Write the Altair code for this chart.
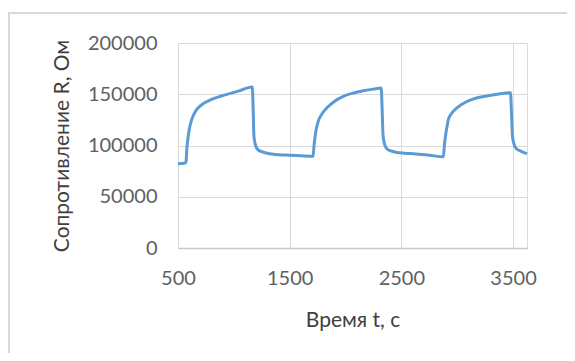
import altair as alt
import pandas as pd

# Time, s
t_values = [500, 565, 572, 580, 590, 605, 625, 660, 715, 800, 895, 1040, 1165,
            1172, 1180, 1195, 1215, 1250, 1300, 1400, 1500, 1600, 1710,
            1718, 1728, 1740, 1757, 1790, 1836, 1900, 1980, 2080, 2160, 2250, 2320,
            2328, 2336, 2350, 2370, 2400, 2450, 2530, 2610, 2750, 2877,
            2885, 2895, 2908, 2921, 2955, 3000, 3070, 3146, 3250, 3360, 3477,
            3485, 3495, 3510, 3530, 3560, 3600, 3625]
# Resistance, Ohm
r_values = [82300, 83000, 84300, 98000, 108000, 118000, 126000, 134000, 140000, 145000, 148500, 153000, 157000,
            140000, 109000, 100000, 96000, 94000, 92500, 91000, 90500, 90000, 89500,
            100000, 109000, 117000, 124000, 131000, 137000, 143000, 148000, 151500, 153500, 155000, 156000,
            135000, 110000, 101000, 97000, 95000, 93500, 92500, 92000, 90500, 89000,
            100000, 109000, 118000, 125500, 132000, 137000, 142000, 145500, 148000, 150000, 151500,
            135000, 109000, 101000, 97000, 95000, 93000, 92000]

x_ticks = [500, 1500, 2500, 3500]
y_ticks = [0, 50000, 100000, 150000, 200000]

df = pd.DataFrame({"t": t_values, "R": r_values})

FONT = "Lato"

line = alt.Chart(df).mark_line(color="#5B9BD5", strokeWidth=3, interpolate="monotone").encode(
    x=alt.X("t:Q",
            scale=alt.Scale(domain=[500, 3625], nice=False, zero=False),
            axis=alt.Axis(title="Время t, с", values=x_ticks, format="d",
                          grid=True, gridColor="#D9D9D9", gridWidth=1,
                          domain=True, domainColor="#C8C8C8", domainWidth=1.5,
                          ticks=False, labelPadding=20, labelFontSize=20, labelFlush=False,
                          labelColor="#606060", labelFont=FONT,
                          titleFont=FONT, titleFontSize=21, titleFontWeight="normal",
                          titleColor="#404040", titlePadding=21)),
    y=alt.Y("R:Q",
            scale=alt.Scale(domain=[0, 200000], nice=False),
            axis=alt.Axis(title="Сопротивление R, Ом", values=y_ticks, format="d",
                          grid=True, gridColor="#D9D9D9", gridWidth=1,
                          domain=False, ticks=False, labelPadding=21, labelFlush=False,
                          labelFontSize=20, labelColor="#606060", labelFont=FONT,
                          titleFont=FONT, titleFontSize=21, titleFontWeight="normal",
                          titleColor="#404040", titlePadding=15)),
)

border_top = alt.Chart(df).mark_rule(color="#D9D9D9", strokeWidth=2).encode(
    x=alt.value(-170), x2=alt.value(389), y=alt.value(-30)
)
border_left = alt.Chart(df).mark_rule(color="#D9D9D9", strokeWidth=2).encode(
    x=alt.value(-169), y=alt.value(-31), y2=alt.value(310)
)

chart = alt.layer(border_top, border_left, line).properties(
    width=349, height=205,
    autosize=alt.AutoSizeParams(type="none"),
    padding={"left": 170, "top": 35, "right": 40, "bottom": 105},
).configure_view(stroke=None).configure(background="white")

chart.save("out.html", embed_options={"renderer": "svg", "actions": False})
